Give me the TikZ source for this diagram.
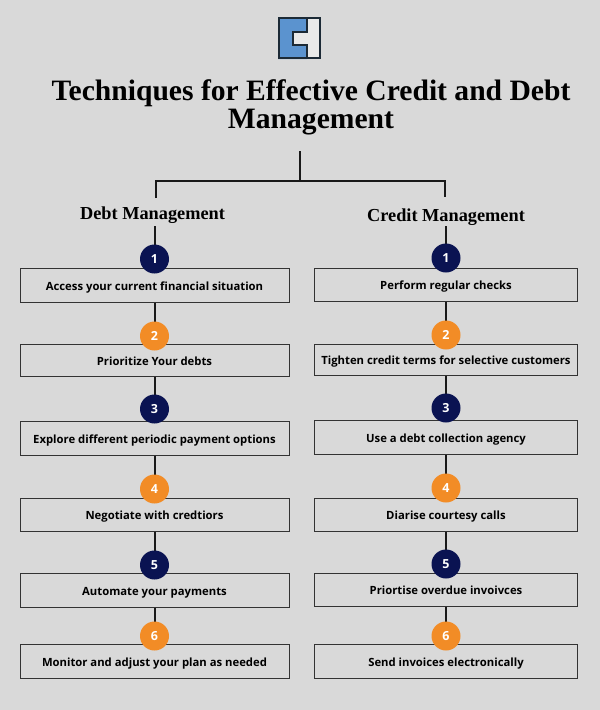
\documentclass[tikz,border=0pt]{standalone}
\usepackage{fontspec}
\setmainfont{Liberation Serif}
\setsansfont{Open Sans}
\definecolor{bgGray}{HTML}{D9D9D9}
\definecolor{navyDot}{HTML}{0A1352}
\definecolor{orangeDot}{HTML}{F28C26}
\definecolor{logoBlue}{HTML}{5B93CF}
\definecolor{logoEdge}{HTML}{1C2A36}
\definecolor{logoWhite}{HTML}{E9E9E9}
\tikzset{
  stepbox/.style={draw=black!80, line width=1pt, fill=bgGray, inner sep=0pt, text height=10pt, text depth=0pt, font=\sffamily\bfseries\fontsize{11.3}{13}\selectfont},
  stepdot/.style={circle, inner sep=0pt, minimum size=29pt, text=white, font=\sffamily\bfseries\fontsize{12.5}{14}\selectfont},
  link/.style={line width=2pt, black!90},
  headline/.style={font=\rmfamily\bfseries\fontsize{18.3}{20}\selectfont}
}
\begin{document}
\begin{tikzpicture}[x=1pt, y=-1pt]
  \fill[bgGray] (0,0) rectangle (600,710);
  \useasboundingbox (0,0) rectangle (600,710);

  % logo
  \fill[logoWhite] (278,17) rectangle (321,59);
  \fill[logoBlue] (278,17) -- (307,17) -- (307,32) -- (293,32) -- (293,45) -- (307,45) -- (307,59) -- (278,59) -- cycle;
  \draw[logoEdge, line width=1.6pt] (279,18) rectangle (320,58);
  \draw[logoEdge, line width=1.6pt] (307,18) -- (307,32) -- (293,32) -- (293,45) -- (307,45) -- (307,58);

  \node[align=center, font=\rmfamily\bfseries\fontsize{29.6}{27.5}\selectfont] (Title) at (311,107.5) {Techniques for Effective Credit and Debt\\Management};
  \node[headline] (DebtHead) at (152.5,215.5) {Debt Management};
  \node[headline] (CreditHead) at (446,217.5) {Credit Management};

  % fork under the title
  \coordinate (TrunkTop) at (300,151);
  \coordinate (TrunkEnd) at (300,181);
  \coordinate (DebtDrop) at (156,198);
  \coordinate (CreditDrop) at (445,197);
  \draw[link] (TrunkTop) -- (TrunkEnd);
  \draw[link] (DebtDrop) |- (TrunkEnd) -| (CreditDrop);

  % left column
  \foreach \i/\y/\h/\txt in {1/285/34/Access your current financial situation,
                             2/360/32/Prioritize Your debts,
                             3/438/34/Explore different periodic payment options,
                             4/514.5/33/Negotiate with credtiors,
                             5/590/34/Automate your payments,
                             6/661/34/Monitor and adjust your plan as needed} {
    \node[stepbox, minimum width=269pt, minimum height=\h pt] (D\i) at (154.5,\y) {\txt};
  }
  % right column
  \foreach \i/\y/\h/\txt in {1/284.5/33/Perform regular checks,
                             2/359.5/31/Tighten credit terms for selective customers,
                             3/437/34/Use a debt collection agency,
                             4/514.5/33/Diarise courtesy calls,
                             5/589.5/33/Priortise overdue invoivces,
                             6/661/34/Send invoices electronically} {
    \node[stepbox, minimum width=263.5pt, minimum height=\h pt] (C\i) at (446,\y) {\txt};
  }

  \coordinate (DebtStart) at (154.5,226);
  \coordinate (CreditStart) at (446,226);
  \foreach \i/\a/\b/\col [remember=\i as \j (initially 0)] in {1/259/258/navyDot, 2/336/335/orangeDot, 3/409/408/navyDot,
                                                               4/489/488/orangeDot, 5/565/564/navyDot, 6/636/636/orangeDot} {
    \ifnum\i=1
      \draw[link] (DebtStart) -- (154.5,\a);
      \draw[link] (CreditStart) -- (446,\b);
    \else
      \draw[link] (D\j.south) -- (154.5,\a);
      \draw[link] (C\j.south) -- (446,\b);
    \fi
    \node[stepdot, fill=\col] (DN\i) at (154.5,\a) {\i};
    \node[stepdot, fill=\col] (CN\i) at (446,\b) {\i};
  }
\end{tikzpicture}
\end{document}
